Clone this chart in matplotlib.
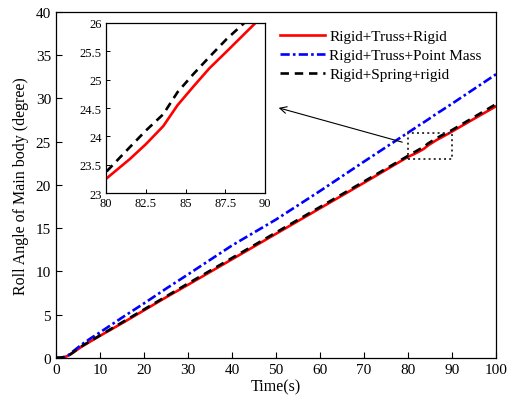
import numpy as np
import matplotlib
matplotlib.use('Agg')
from matplotlib import pyplot as plt
from matplotlib.patches import Rectangle

# roll angle history for the three models
t = [0, 1, 2, 3, 4, 5, 6, 8, 10, 15, 20, 25, 30, 40, 50, 60, 70, 80,
     81.5, 82.5, 83.6, 84.5, 85.5, 86.5, 87.6, 88.5, 89.4, 90, 95, 100]
rigid_truss = [0, 0.02, 0.1, 0.3, 0.65, 1.0, 1.35, 1.95, 2.55, 4.0, 5.5, 7.0,
               8.45, 11.4, 14.35, 17.3, 20.25, 23.25,
               23.6, 23.86, 24.18, 24.55, 24.88, 25.2, 25.5, 25.75, 26.0,
               26.18, 27.65, 29.1]
point_mass = [0, 0.02, 0.12, 0.38, 0.8, 1.2, 1.6, 2.3, 2.95, 4.65, 6.3, 8.0,
              9.65, 13.0, 16.0, 19.3, 22.7, 26.05,
              26.55, 26.9, 27.25, 27.55, 27.9, 28.25, 28.6, 28.9, 29.2,
              29.4, 31.1, 32.8]
rigid_spring = [0, 0.02, 0.1, 0.32, 0.68, 1.05, 1.4, 2.0, 2.6, 4.1, 5.6, 7.1,
                8.6, 11.55, 14.5, 17.45, 20.4, 23.37,
                23.81, 24.1, 24.39, 24.78, 25.1, 25.4, 25.72, 25.95, 26.18,
                26.35, 27.85, 29.35]

labels = ['Rigid+Truss+Rigid', 'Rigid+Truss+Point Mass', 'Rigid+Spring+rigid']
zoom_x = [80, 82.5, 85, 87.5, 90]
zoom_y = [23, 23.5, 24, 24.5, 25, 25.5, 26]

plt.rcParams['font.family'] = ['Liberation Serif']

fig = plt.figure(figsize=(5.13, 4.06), dpi=100)
ax = fig.add_axes([0.109, 0.116, 0.858, 0.852])


def draw(a):
    a.plot(t, rigid_truss, color='red', lw=1.9, label=labels[0])
    a.plot(t, point_mass, color='blue', lw=1.9, ls=(0, (3.5, 1.2, 1, 1.2)),
           label=labels[1])
    a.plot(t, rigid_spring, color='black', lw=1.9, ls=(0, (3.2, 2.2)),
           label=labels[2])


draw(ax)
ax.set_xlim(0, 100)
ax.set_ylim(0, 40)
ax.set_xticks(np.arange(0, 101, 10))
ax.set_yticks(np.arange(0, 41, 5))
ax.tick_params(direction='in', labelsize=11, length=4, width=0.8)
ax.set_xlabel('Time(s)', fontsize=11.5, labelpad=2)
ax.set_ylabel('Roll Angle of Main body (degree)', fontsize=11.5, labelpad=5)
for s in ax.spines.values():
    s.set_linewidth(0.9)
leg = ax.legend(loc='upper right', frameon=False, fontsize=11,
                handlelength=3.0, handletextpad=0.25, labelspacing=0.35,
                borderaxespad=0.4, bbox_to_anchor=(0.995, 0.985))

# zoom box and arrow to the inset
ax.add_patch(Rectangle((80, 23), 10, 3, fill=False, ls=':', lw=1.4,
                       ec='#333333', zorder=5))
ax.annotate('', xy=(50.0, 29.0), xytext=(79.3, 24.86),
            arrowprops=dict(arrowstyle='->', lw=0.8, color='black',
                            mutation_scale=12))

ins = fig.add_axes([0.2066, 0.522, 0.31, 0.419])
draw(ins)
ins.set_xlim(80, 90)
ins.set_ylim(23, 26)
ins.set_xticks(zoom_x)
ins.set_xticklabels(['80', '82.5', '85', '87.5', '90'])
ins.set_yticks(zoom_y)
ins.set_yticklabels(['23', '23.5', '24', '24.5', '25', '25.5', '26'])
ins.tick_params(direction='in', labelsize=9, length=3, width=0.7, pad=3)
for s in ins.spines.values():
    s.set_linewidth(0.9)

fig.savefig('out.png', dpi=100)
